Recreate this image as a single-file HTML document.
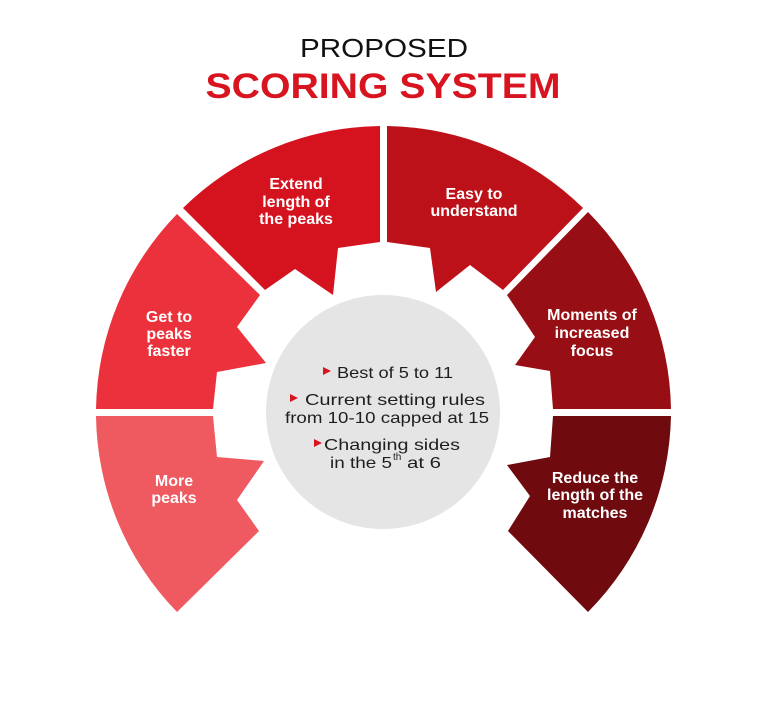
<!DOCTYPE html>
<html><head><meta charset="utf-8"><style>
html,body{margin:0;padding:0;background:#fff;}
svg{display:block;}
text{font-family:"Liberation Sans",sans-serif;}
</style></head><body>
<svg width="768" height="715" viewBox="0 0 768 715" xmlns="http://www.w3.org/2000/svg">
<text x="384" y="57" font-size="26" text-anchor="middle" fill="#111" textLength="168" lengthAdjust="spacingAndGlyphs">PROPOSED</text>
<text x="383" y="98" font-size="35" font-weight="bold" text-anchor="middle" fill="#d7141f" textLength="355" lengthAdjust="spacingAndGlyphs">SCORING SYSTEM</text>

<path d="M183,208 A286,286 0 0 1 380,126 L380,242 L338,248 L333,295 L295,269 L265,290 Z" fill="#d5131f"/>
<path d="M387,126 A286,286 0 0 1 583,208 L503,290 L470,265 L436,292 L430,248 L387,242 Z" fill="#bc1119"/>
<path d="M177,214 A286,286 0 0 0 96,409 L213,409 L217,372 L266,363 L237,327 L260,295 Z" fill="#eb323c"/>
<path d="M96,416 A286,286 0 0 0 177,612 L259,531 L237,500 L264,461 L217,457 L213,416 Z" fill="#ef5a61"/>
<path d="M588,212 A286,286 0 0 1 671,409 L553,409 L550,371 L515,365 L535,337 L507,295 Z" fill="#970e14"/>
<path d="M671,416 A286,286 0 0 1 588,612 L508,531 L530,496 L507,465 L550,457 L553,416 Z" fill="#6f0a0e"/>

<circle cx="383" cy="412" r="117" fill="#e5e5e5"/>

<g fill="#fff" font-size="16" font-weight="bold" text-anchor="middle">
<text x="296" y="189">Extend</text><text x="296" y="207">length of</text><text x="296" y="224">the peaks</text>
<text x="474" y="199">Easy to</text><text x="474" y="216">understand</text>
<text x="169" y="322">Get to</text><text x="169" y="339">peaks</text><text x="169" y="356">faster</text>
<text x="174" y="486">More</text><text x="174" y="503">peaks</text>
<text x="592" y="320">Moments of</text><text x="592" y="338">increased</text><text x="592" y="356">focus</text>
<text x="595" y="483">Reduce the</text><text x="595" y="500">length of the</text><text x="595" y="518">matches</text>
</g>

<g fill="#d7141f">
<polygon points="323,367 331,371 323,375"/>
<polygon points="290,394 298,398 290,402"/>
<polygon points="314,439 322,443 314,447"/>
</g>
<g fill="#1e1e1e" font-size="16" text-anchor="middle">
<text x="395" y="378" textLength="116" lengthAdjust="spacingAndGlyphs">Best of 5 to 11</text>
<text x="395" y="405" textLength="180" lengthAdjust="spacingAndGlyphs">Current setting rules</text>
<text x="387" y="423" textLength="204" lengthAdjust="spacingAndGlyphs">from 10-10 capped at 15</text>
<text x="392" y="450" textLength="136" lengthAdjust="spacingAndGlyphs">Changing sides</text>
</g>
<g fill="#1e1e1e" font-size="16">
<text x="330" y="468" textLength="62" lengthAdjust="spacingAndGlyphs">in the 5</text>
<text x="393" y="460" font-size="10">th</text>
<text x="407" y="468" textLength="34" lengthAdjust="spacingAndGlyphs">at 6</text>
</g>
</svg>
</body></html>
